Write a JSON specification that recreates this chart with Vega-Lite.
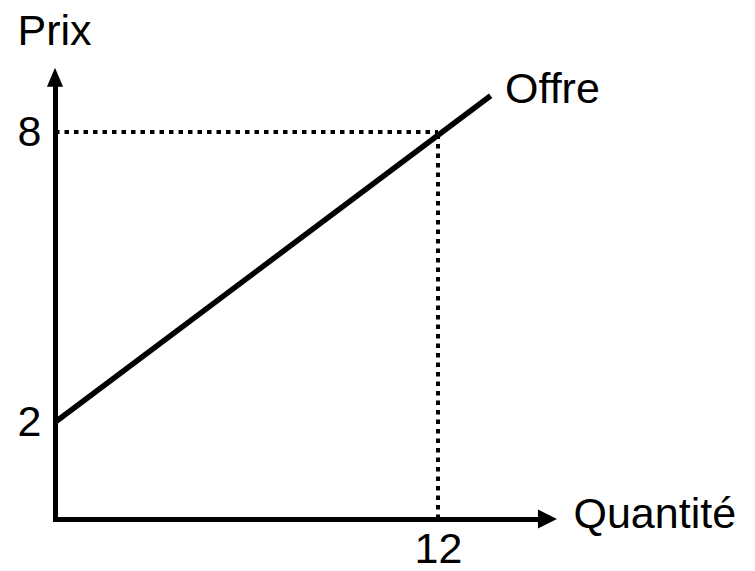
{
  "$schema": "https://vega.github.io/schema/vega-lite/v6.json",
  "width": 482,
  "height": 434,
  "autosize": {"type": "none"},
  "padding": {"left": 55, "top": 85, "right": 218, "bottom": 52},
  "background": "white",
  "config": {
    "view": {"stroke": null},
    "font": "Liberation Sans",
    "axis": {
      "grid": false,
      "ticks": false,
      "tickSize": 0,
      "domainColor": "black",
      "domainWidth": 5,
      "domainCap": "square",
      "labelFont": "Liberation Sans",
      "labelFontSize": 43,
      "labelColor": "black",
      "labelFlush": false,
      "labelOverlap": false,
      "titleFont": "Liberation Sans",
      "titleFontSize": 43,
      "titleFontWeight": "normal",
      "titleColor": "black"
    }
  },
  "encoding": {
    "x": {
      "field": "q",
      "type": "quantitative",
      "scale": {"domain": [0, 15.102], "nice": false, "zero": false},
      "axis": {
        "title": "Quantité",
        "values": [12],
        "labelPadding": 9,
        "titleX": 518,
        "titleY": 8,
        "titleAlign": "left",
        "titleBaseline": "alphabetic",
        "titleAngle": 0
      }
    },
    "y": {
      "field": "p",
      "type": "quantitative",
      "scale": {"domain": [0, 8.972], "nice": false, "zero": false},
      "axis": {
        "title": "Prix",
        "values": [2, 8],
        "labelPadding": 14,
        "titleX": -38,
        "titleY": -41,
        "titleAlign": "left",
        "titleBaseline": "alphabetic",
        "titleAngle": 0
      }
    }
  },
  "layer": [
    {
      "data": {"values": [
        {"q": 0, "q2": 12, "p": 8, "p2": 8},
        {"q": 12, "q2": 12, "p": 0, "p2": 8}
      ]},
      "mark": {"type": "rule", "color": "black", "strokeWidth": 4, "strokeDash": [4.5, 5], "strokeCap": "butt"},
      "encoding": {
        "x2": {"field": "q2"},
        "y2": {"field": "p2"}
      }
    },
    {
      "data": {"values": [
        {"q": 0, "p": 2},
        {"q": 13.65, "p": 8.75}
      ]},
      "mark": {"type": "line", "color": "black", "strokeWidth": 5.5, "strokeCap": "butt"},
      "encoding": {}
    },
    {
      "data": {"values": [
        {"q": 0, "p": 9.133, "dir": "up"},
        {"q": 15.43, "p": 0, "dir": "right"}
      ]},
      "mark": {"type": "point", "filled": true, "color": "black", "opacity": 1, "strokeWidth": 0, "size": 361},
      "encoding": {
        "shape": {
          "field": "dir",
          "type": "nominal",
          "scale": {"domain": ["up", "right"], "range": ["M0,-1L-0.85,1L0.85,1Z", "M1,0L-1,-1L-1,1Z"]},
          "legend": null
        }
      }
    },
    {
      "data": {"values": [
        {"q": 14.1, "p": 8.86, "label": "Offre"}
      ]},
      "mark": {"type": "text", "align": "left", "baseline": "middle", "font": "Liberation Sans", "fontSize": 43, "color": "black"},
      "encoding": {
        "text": {"field": "label"}
      }
    }
  ]
}
